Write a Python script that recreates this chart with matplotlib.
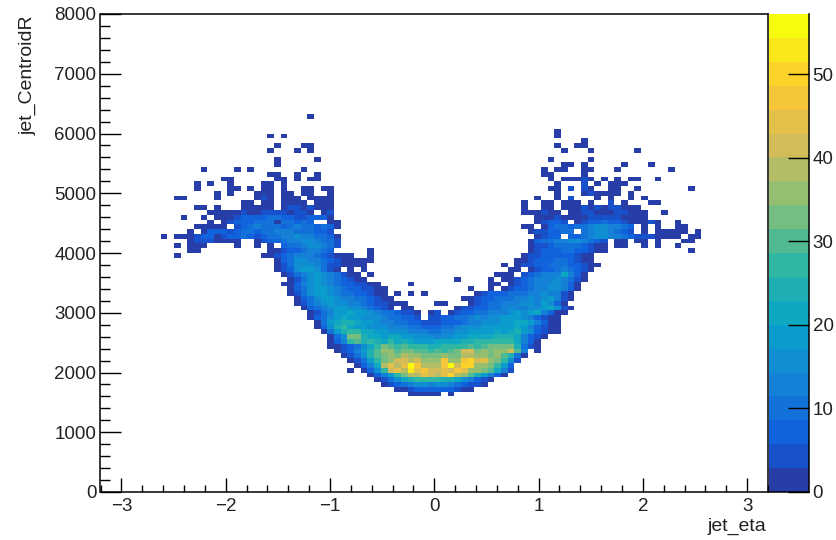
import numpy as np
import matplotlib
matplotlib.use("Agg")
import matplotlib.pyplot as plt
from matplotlib.colors import LinearSegmentedColormap, BoundaryNorm

plt.rcParams['font.family'] = ['Liberation Sans', 'DejaVu Sans']

# bin setup of the histogram
N_X = 100
N_Y = 100
X_MIN = -3.2
X_MAX = 3.2
Y_MIN = 0
Y_MAX = 8000
Z_MAX = 57.2
N_BANDS = 20

x_ticks = [-3, -2, -1, 0, 1, 2, 3]
y_ticks = [0, 1000, 2000, 3000, 4000, 5000, 6000, 7000, 8000]
z_ticks = [0, 10, 20, 30, 40, 50]

# palette stops (ROOT bird)
stops = [0.0, 0.125, 0.25, 0.375, 0.5, 0.625, 0.75, 0.875, 1.0]
red = [0.2082, 0.0592, 0.0780, 0.0232, 0.1802, 0.5301, 0.8186, 0.9956, 0.9764]
green = [0.1664, 0.3599, 0.5041, 0.6419, 0.7178, 0.7492, 0.7328, 0.7862, 0.9832]
blue = [0.5293, 0.8684, 0.8385, 0.7914, 0.6425, 0.4662, 0.3499, 0.1968, 0.0539]

# row number -> {first column: colour band of each cell, base 36}
rows = {
    78: {31: "1"},
    75: {68: "1"},
    74: {25: "1", 27: "1", 68: "1"},
    73: {72: "1"},
    72: {26: "1", 30: "11", 68: "1", 71: "11"},
    71: {25: "1", 29: "1", 31: "1", 69: "1", 73: "1", 80: "1"},
    69: {26: "1", 32: "1", 67: "1", 73: "1"},
    68: {26: "1", 69: "11", 72: "1", 78: "1", 82: "1"},
    67: {15: "1", 20: "1", 22: "1", 30: "1", 66: "1", 68: "11", 72: "11", 77: "1", 85: "1"},
    66: {25: "11", 29: "1", 32: "1", 66: "11", 72: "1"},
    65: {18: "11", 26: "11", 29: "1", 31: "11", 67: "1", 69: "111", 72: "21", 75: "1", 77: "1", 79: "11", 83: "1"},
    64: {14: "1", 16: "1", 19: "1", 24: "11", 27: "1", 68: "1", 72: "2", 74: "1", 76: "11", 78: "1"},
    63: {14: "1", 19: "11", 22: "1", 24: "11", 27: "1", 30: "11", 33: "11", 67: "11", 70: "2", 72: "21", 76: "11", 80: "1", 88: "1"},
    62: {17: "1", 19: "1", 23: "111", 27: "11", 30: "11", 34: "1", 68: "1", 72: "1211", 76: "11", 79: "1"},
    61: {11: "11", 17: "1", 23: "121", 27: "111", 31: "1111", 65: "1", 68: "1", 70: "2", 74: "1", 76: "1", 79: "1", 81: "1"},
    60: {21: "11", 24: "11", 27: "1111", 32: "111", 63: "1", 66: "11", 69: "111", 73: "1", 76: "2", 78: "1", 82: "11"},
    59: {14: "11", 17: "1", 21: "11111", 27: "12212111", 63: "1", 66: "11", 69: "111212122111"},
    58: {16: "1111121122221221", 33: "12", 63: "11", 65: "1211", 70: "11221112211", 81: "1", 84: "1"},
    57: {12: "1", 15: "1", 17: "111233334433223331", 65: "11121111222221111"},
    56: {16: "1", 18: "12333444144343", 34: "11", 65: "12332", 71: "123343321", 80: "1121", 86: "1"},
    55: {14: "11111", 20: "2345444345443431", 63: "11", 66: "13443445665543", 81: "1", 83: "1", 86: "11"},
    54: {13: "1", 15: "13332344344555444332", 64: "1223344", 72: "45665432", 81: "1", 83: "1111", 87: "1", 89: "1"},
    53: {9: "1", 11: "1112331233432344556554431", 65: "1233", 70: "3345665543222111", 86: "1", 88: "11"},
    52: {13: "12221111", 23: "1233455665442", 64: "134455665432", 77: "11", 80: "11", 83: "1", 87: "11"},
    51: {11: "1", 13: "111", 20: "1", 23: "1", 25: "1", 27: "344566542", 64: "122344443211", 77: "11", 81: "1", 83: "1", 86: "1"},
    50: {13: "11", 25: "1123345543", 40: "1", 64: "123334433211", 88: "1"},
    49: {11: "1", 24: "11234555432111", 40: "1", 63: "12233333211"},
    48: {26: "13466554321111", 40: "1", 62: "112333443211"},
    47: {26: "12466654221111", 60: "1", 62: "1223344433211"},
    46: {26: "1236776421", 37: "1", 39: "1", 61: "11", 64: "1233454321"},
    45: {27: "124567654211", 40: "1", 59: "111", 63: "2345558531"},
    44: {28: "124676543211", 53: "1", 58: "1", 60: "1123455565421"},
    43: {27: "113567654332211", 46: "1", 58: "11", 61: "12345566531"},
    42: {28: "134677654332211", 55: "1", 58: "1", 60: "123345566531"},
    41: {28: "124677654433211", 44: "1", 46: "1", 48: "1", 56: "123334445565521"},
    40: {29: "134677655443211", 54: "11233444556567521"},
    39: {29: "12456766554322111", 50: "11", 55: "123445556657631"},
    38: {30: "13456776654321", 45: "11", 53: "122334456556678621"},
    37: {31: "12457787765443221", 49: "12", 52: "123344555676785311"},
    36: {31: "13467877666544332", 49: "22334456566777653211"},
    35: {32: "1478998776554433222333455666778875311"},
    34: {32: "1369a87766655544333445666777778753211"},
    33: {33: "1479aa887766655544556677778789763211"},
    32: {34: "146cc9887887766656677888899985321"},
    31: {34: "135ab9a98a898777888899aaaaaa8531"},
    30: {34: "1123468acbabaaa99aaaababcccc9421"},
    29: {35: "123579bddbccbbababcffcdcddfb5", 65: "1"},
    28: {36: "12469bcdceddcccdcceeddcdb941"},
    27: {37: "1247acdffefdddhddhifgdca62"},
    26: {38: "1358egegkheeehkfiiddca73"},
    25: {37: "1", 39: "136afgejghffgfhgddcb852"},
    24: {40: "1357aceegfegiedb97531"},
    23: {41: "124689aaaa99865321"},
    22: {42: "1234566566543221"},
    21: {44: "112333333211"},
    20: {46: "11111", 52: "1"},
}

band = Z_MAX / N_BANDS
counts = np.full((N_Y, N_X), np.nan)
for j, segments in rows.items():
    for start, levels in segments.items():
        for k, ch in enumerate(levels):
            counts[j, start + k] = (int(ch, 36) - 0.5) * band
counts = np.ma.masked_invalid(counts)

cdict = {
    'red': [(s, v, v) for s, v in zip(stops, red)],
    'green': [(s, v, v) for s, v in zip(stops, green)],
    'blue': [(s, v, v) for s, v in zip(stops, blue)],
}
bird = LinearSegmentedColormap('bird', cdict, 256)
# the lowest band of the reference is already past the purple end of the palette
band_colors = bird(np.arange(1, N_BANDS + 1) / N_BANDS)
cmap = matplotlib.colors.ListedColormap(band_colors)
bounds = np.linspace(0, Z_MAX, N_BANDS + 1)
norm = BoundaryNorm(bounds, N_BANDS)

W = 837
H = 540
fig = plt.figure(figsize=(W / 100, H / 100), dpi=100)
ax = fig.add_axes([100.5 / W, (H - 492) / H, 667.5 / W, 478 / H])

xedges = np.linspace(X_MIN, X_MAX, N_X + 1)
yedges = np.linspace(Y_MIN, Y_MAX, N_Y + 1)
ax.pcolormesh(xedges, yedges, counts, cmap=cmap, norm=norm)

ax.set_xlim(X_MIN, X_MAX)
ax.set_ylim(Y_MIN, Y_MAX)
ax.set_xticks(x_ticks)
ax.set_yticks(y_ticks)
ax.set_xticks(np.arange(-3.2, 3.21, 0.2), minor=True)
ax.set_yticks(np.arange(0, 8001, 200), minor=True)
ax.set_xticklabels(["\u22123", "\u22122", "\u22121", "0", "1", "2", "3"])
ax.tick_params(axis='x', which='major', direction='in', length=10, width=1, labelsize=13.5, labelcolor='#222222', pad=4)
ax.tick_params(axis='x', which='minor', direction='in', length=5, width=1)
ax.tick_params(axis='y', which='major', direction='in', length=15, width=1, labelsize=13.5, labelcolor='#222222', pad=3)
ax.tick_params(axis='y', which='minor', direction='in', length=7.5, width=1)
for s in ax.spines.values():
    s.set_linewidth(1.1)

fig.text(766 / W, (H - 526) / H, "jet_eta", ha='right', va='center', fontsize=14, color='#222222')
fig.text(28 / W, (H - 15) / H, "jet_CentroidR", ha='center', va='top', rotation=90, fontsize=14, color='#222222')

# palette on the right
cax = fig.add_axes([769 / W, (H - 492) / H, 39.5 / W, 478 / H])
cax.pcolormesh([0, 1], bounds, np.arange(N_BANDS).reshape(-1, 1), cmap=cmap)
cax.set_xlim(0, 1)
cax.set_ylim(0, Z_MAX)
cax.set_xticks([])
cax.yaxis.tick_right()
cax.set_yticks(z_ticks)
cax.tick_params(axis='y', direction='in', length=15, width=1, labelsize=13.5, labelcolor='#222222', pad=3)
cax.spines['left'].set_visible(False)
cax.spines['top'].set_visible(False)
cax.spines['right'].set_linewidth(1.1)
cax.spines['bottom'].set_linewidth(1.1)

fig.savefig("out.png", dpi=100)
